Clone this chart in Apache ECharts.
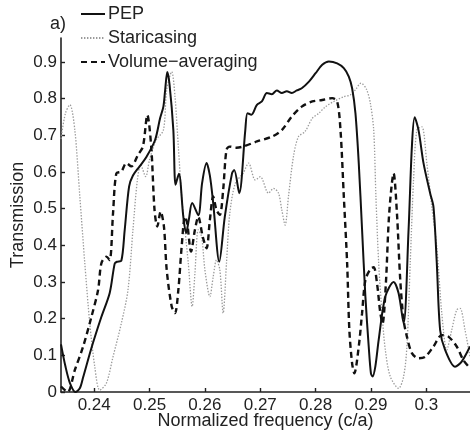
<!DOCTYPE html>
<html>
<head>
<meta charset="utf-8">
<script src="https://cdn.jsdelivr.net/npm/echarts@6/dist/echarts.min.js"></script>
<style>
  html, body { margin: 0; padding: 0; background: #fff; }
  #chart { width: 470px; height: 434px; }
</style>
</head>
<body>
<div id="chart"></div>
<script>
// Transmissão vs frequência normalizada (PEP / staircasing / volume-averaging)
const ticksX = [0.24, 0.25, 0.26, 0.27, 0.28, 0.29, 0.3];
const ticksY = [0, 0.1, 0.2, 0.3, 0.4, 0.5, 0.6, 0.7, 0.8, 0.9];

const pepX = [0.234, 0.2348, 0.2356, 0.2366, 0.2374, 0.238, 0.2395, 0.2413, 0.2428, 0.2437, 0.2441, 0.2449, 0.2455, 0.2463, 0.247, 0.2482, 0.2494, 0.251, 0.2519, 0.2525, 0.2528, 0.2532, 0.2536, 0.2543, 0.2547, 0.2553, 0.2561, 0.2566, 0.2571, 0.2577, 0.2588, 0.2595, 0.2603, 0.2609, 0.2615, 0.2626, 0.2636, 0.2649, 0.2653, 0.2662, 0.2673, 0.2677, 0.2684, 0.2694, 0.2703, 0.2712, 0.2721, 0.273, 0.2739, 0.2748, 0.2757, 0.2766, 0.2775, 0.2788, 0.28, 0.2812, 0.2824, 0.2839, 0.2851, 0.286, 0.2866, 0.2872, 0.2878, 0.2884, 0.289, 0.2896, 0.29, 0.2903, 0.2908, 0.2914, 0.2926, 0.2941, 0.295, 0.2959, 0.2968, 0.2974, 0.2979, 0.2986, 0.2995, 0.3007, 0.3013, 0.3019, 0.3025, 0.3034, 0.3052, 0.3064, 0.3079];
const pepY = [0.13, 0.07, 0.025, 0.0, 0.01, 0.04, 0.12, 0.205, 0.27, 0.35, 0.355, 0.358, 0.44, 0.56, 0.59, 0.615, 0.64, 0.687, 0.746, 0.778, 0.82, 0.872, 0.84, 0.714, 0.565, 0.595, 0.478, 0.433, 0.47, 0.515, 0.482, 0.57, 0.624, 0.59, 0.515, 0.355, 0.478, 0.596, 0.605, 0.542, 0.714, 0.76, 0.756, 0.783, 0.792, 0.815, 0.812, 0.822, 0.815, 0.82, 0.815, 0.822, 0.828, 0.846, 0.869, 0.892, 0.901, 0.896, 0.883, 0.86, 0.828, 0.76, 0.624, 0.442, 0.26, 0.124, 0.051, 0.042, 0.07, 0.142, 0.26, 0.3, 0.269, 0.187, 0.442, 0.669, 0.749, 0.714, 0.624, 0.542, 0.505, 0.351, 0.169, 0.115, 0.069, 0.083, 0.124];

const staX = [0.234, 0.2348, 0.2356, 0.2365, 0.2374, 0.2383, 0.2392, 0.2401, 0.241, 0.2422, 0.2434, 0.2449, 0.2461, 0.247, 0.2478, 0.2484, 0.2493, 0.25, 0.2512, 0.2525, 0.2531, 0.254, 0.2546, 0.2552, 0.2558, 0.2564, 0.257, 0.2577, 0.2582, 0.2588, 0.2594, 0.26, 0.2609, 0.2615, 0.2621, 0.2627, 0.2633, 0.2639, 0.2645, 0.2655, 0.2669, 0.2679, 0.2691, 0.27, 0.2715, 0.2724, 0.2733, 0.2739, 0.2745, 0.2751, 0.276, 0.2769, 0.2781, 0.2794, 0.2806, 0.2818, 0.2833, 0.2851, 0.2863, 0.2872, 0.2882, 0.2892, 0.2899, 0.2905, 0.2909, 0.2914, 0.292, 0.2926, 0.2935, 0.295, 0.2959, 0.2965, 0.2971, 0.2977, 0.2983, 0.2992, 0.3001, 0.301, 0.3019, 0.3028, 0.3037, 0.3046, 0.3055, 0.3061, 0.307, 0.3079];
const staY = [0.69, 0.76, 0.783, 0.714, 0.533, 0.351, 0.187, 0.069, 0.005, 0.024, 0.096, 0.187, 0.278, 0.442, 0.578, 0.619, 0.587, 0.633, 0.687, 0.714, 0.824, 0.873, 0.805, 0.669, 0.533, 0.442, 0.351, 0.233, 0.324, 0.442, 0.424, 0.333, 0.26, 0.314, 0.36, 0.333, 0.215, 0.351, 0.487, 0.569, 0.596, 0.624, 0.578, 0.587, 0.542, 0.555, 0.542, 0.496, 0.455, 0.533, 0.642, 0.696, 0.71, 0.746, 0.76, 0.778, 0.792, 0.805, 0.81, 0.824, 0.842, 0.825, 0.787, 0.714, 0.533, 0.351, 0.215, 0.115, 0.042, 0.01, 0.042, 0.124, 0.351, 0.578, 0.714, 0.723, 0.624, 0.505, 0.396, 0.215, 0.115, 0.169, 0.224, 0.228, 0.169, 0.096];

const volX = [0.234, 0.2352, 0.2365, 0.238, 0.2395, 0.2407, 0.2413, 0.2422, 0.2428, 0.2434, 0.244, 0.2449, 0.2458, 0.2467, 0.2479, 0.2488, 0.2496, 0.2503, 0.2509, 0.2514, 0.252, 0.2526, 0.2531, 0.254, 0.2546, 0.2552, 0.2558, 0.2564, 0.2568, 0.2575, 0.2582, 0.2588, 0.2596, 0.2603, 0.2609, 0.2615, 0.2621, 0.2627, 0.2633, 0.2639, 0.2645, 0.2657, 0.2669, 0.2694, 0.2721, 0.2739, 0.2757, 0.2775, 0.2794, 0.2812, 0.283, 0.2839, 0.2845, 0.2851, 0.2857, 0.2861, 0.2866, 0.287, 0.2878, 0.2884, 0.289, 0.2899, 0.2905, 0.2911, 0.2917, 0.2921, 0.2927, 0.2933, 0.2941, 0.2947, 0.2953, 0.2959, 0.2965, 0.2974, 0.2986, 0.2998, 0.3013, 0.3028, 0.304, 0.3055, 0.3067, 0.3079];
const volY = [0.015, 0.0, 0.06, 0.124, 0.205, 0.278, 0.351, 0.369, 0.36, 0.487, 0.596, 0.601, 0.624, 0.615, 0.646, 0.669, 0.755, 0.669, 0.496, 0.451, 0.492, 0.451, 0.333, 0.233, 0.215, 0.278, 0.396, 0.478, 0.46, 0.383, 0.442, 0.478, 0.424, 0.392, 0.469, 0.533, 0.496, 0.483, 0.551, 0.66, 0.669, 0.666, 0.669, 0.683, 0.696, 0.714, 0.751, 0.778, 0.792, 0.796, 0.801, 0.792, 0.714, 0.533, 0.351, 0.169, 0.078, 0.051, 0.124, 0.215, 0.305, 0.335, 0.34, 0.296, 0.215, 0.187, 0.296, 0.487, 0.596, 0.487, 0.305, 0.196, 0.151, 0.106, 0.092, 0.096, 0.124, 0.155, 0.151, 0.124, 0.087, 0.065];

const pares = (xs, ys) => xs.map((x, i) => [x, ys[i]]);
const FONTE = "'Liberation Sans', Arial, sans-serif";

const eixo = {
  axisLine: { lineStyle: { color: "#222", width: 1.6 } },
  axisTick: { inside: true, length: 4, lineStyle: { color: "#222", width: 1.4 } },
  splitLine: { show: false },
  nameLocation: "middle",
  nameMoveOverlap: false,
  nameTextStyle: { color: "#222", fontSize: 18, fontFamily: FONTE },
};

const g = echarts.init(document.getElementById("chart"));
g.setOption({
  animation: false,
  backgroundColor: "#fff",
  textStyle: { fontFamily: FONTE },
  title: {
    text: "a)", left: 45, top: 10,
    textStyle: { color: "#222", fontSize: 18, fontWeight: "normal", fontFamily: FONTE },
  },
  legend: {
    orient: "vertical", left: 75, top: 0,
    itemWidth: 24, itemHeight: 2, itemGap: 6,
    itemStyle: { opacity: 0 },
    data: ["PEP", "Staricasing", "Volume\u2212averaging"],
    textStyle: { color: "#222", fontSize: 18, fontFamily: FONTE, padding: [0, 0, 0, -2] },
  },
  grid: { left: 61, right: 0, top: 38, bottom: 42, containLabel: false, outerBoundsMode: "none" },
  xAxis: {
    ...eixo,
    type: "value", min: 0.234, max: 0.3079,
    name: "Normalized frequency (c/a)", nameGap: 20,
    axisTick: { ...eixo.axisTick, customValues: ticksX },
    axisLabel: { customValues: ticksX, color: "#222", fontSize: 17, fontFamily: FONTE, margin: 5 },
  },
  yAxis: {
    ...eixo,
    type: "value", min: 0, max: 0.965,
    name: "Transmission", nameGap: 34,
    axisTick: { ...eixo.axisTick, customValues: ticksY },
    axisLabel: { customValues: ticksY, color: "#222", fontSize: 17, fontFamily: FONTE, margin: 4 },
  },
  series: [
    {
      name: "Staricasing", type: "line", symbol: "none", smooth: 0.3,
      data: pares(staX, staY),
      lineStyle: { color: "#9a9a9a", width: 1.3, type: [1.4, 1.6] },
      itemStyle: { color: "#9a9a9a" },
    },
    {
      name: "Volume\u2212averaging", type: "line", symbol: "none", smooth: 0.3,
      data: pares(volX, volY),
      lineStyle: { color: "#111", width: 2.4, type: [6, 4] },
      itemStyle: { color: "#111" },
    },
    {
      name: "PEP", type: "line", symbol: "none", smooth: 0.3,
      data: pares(pepX, pepY),
      lineStyle: { color: "#111", width: 2 },
      itemStyle: { color: "#111" },
    },
  ],
});
</script>
</body>
</html>
